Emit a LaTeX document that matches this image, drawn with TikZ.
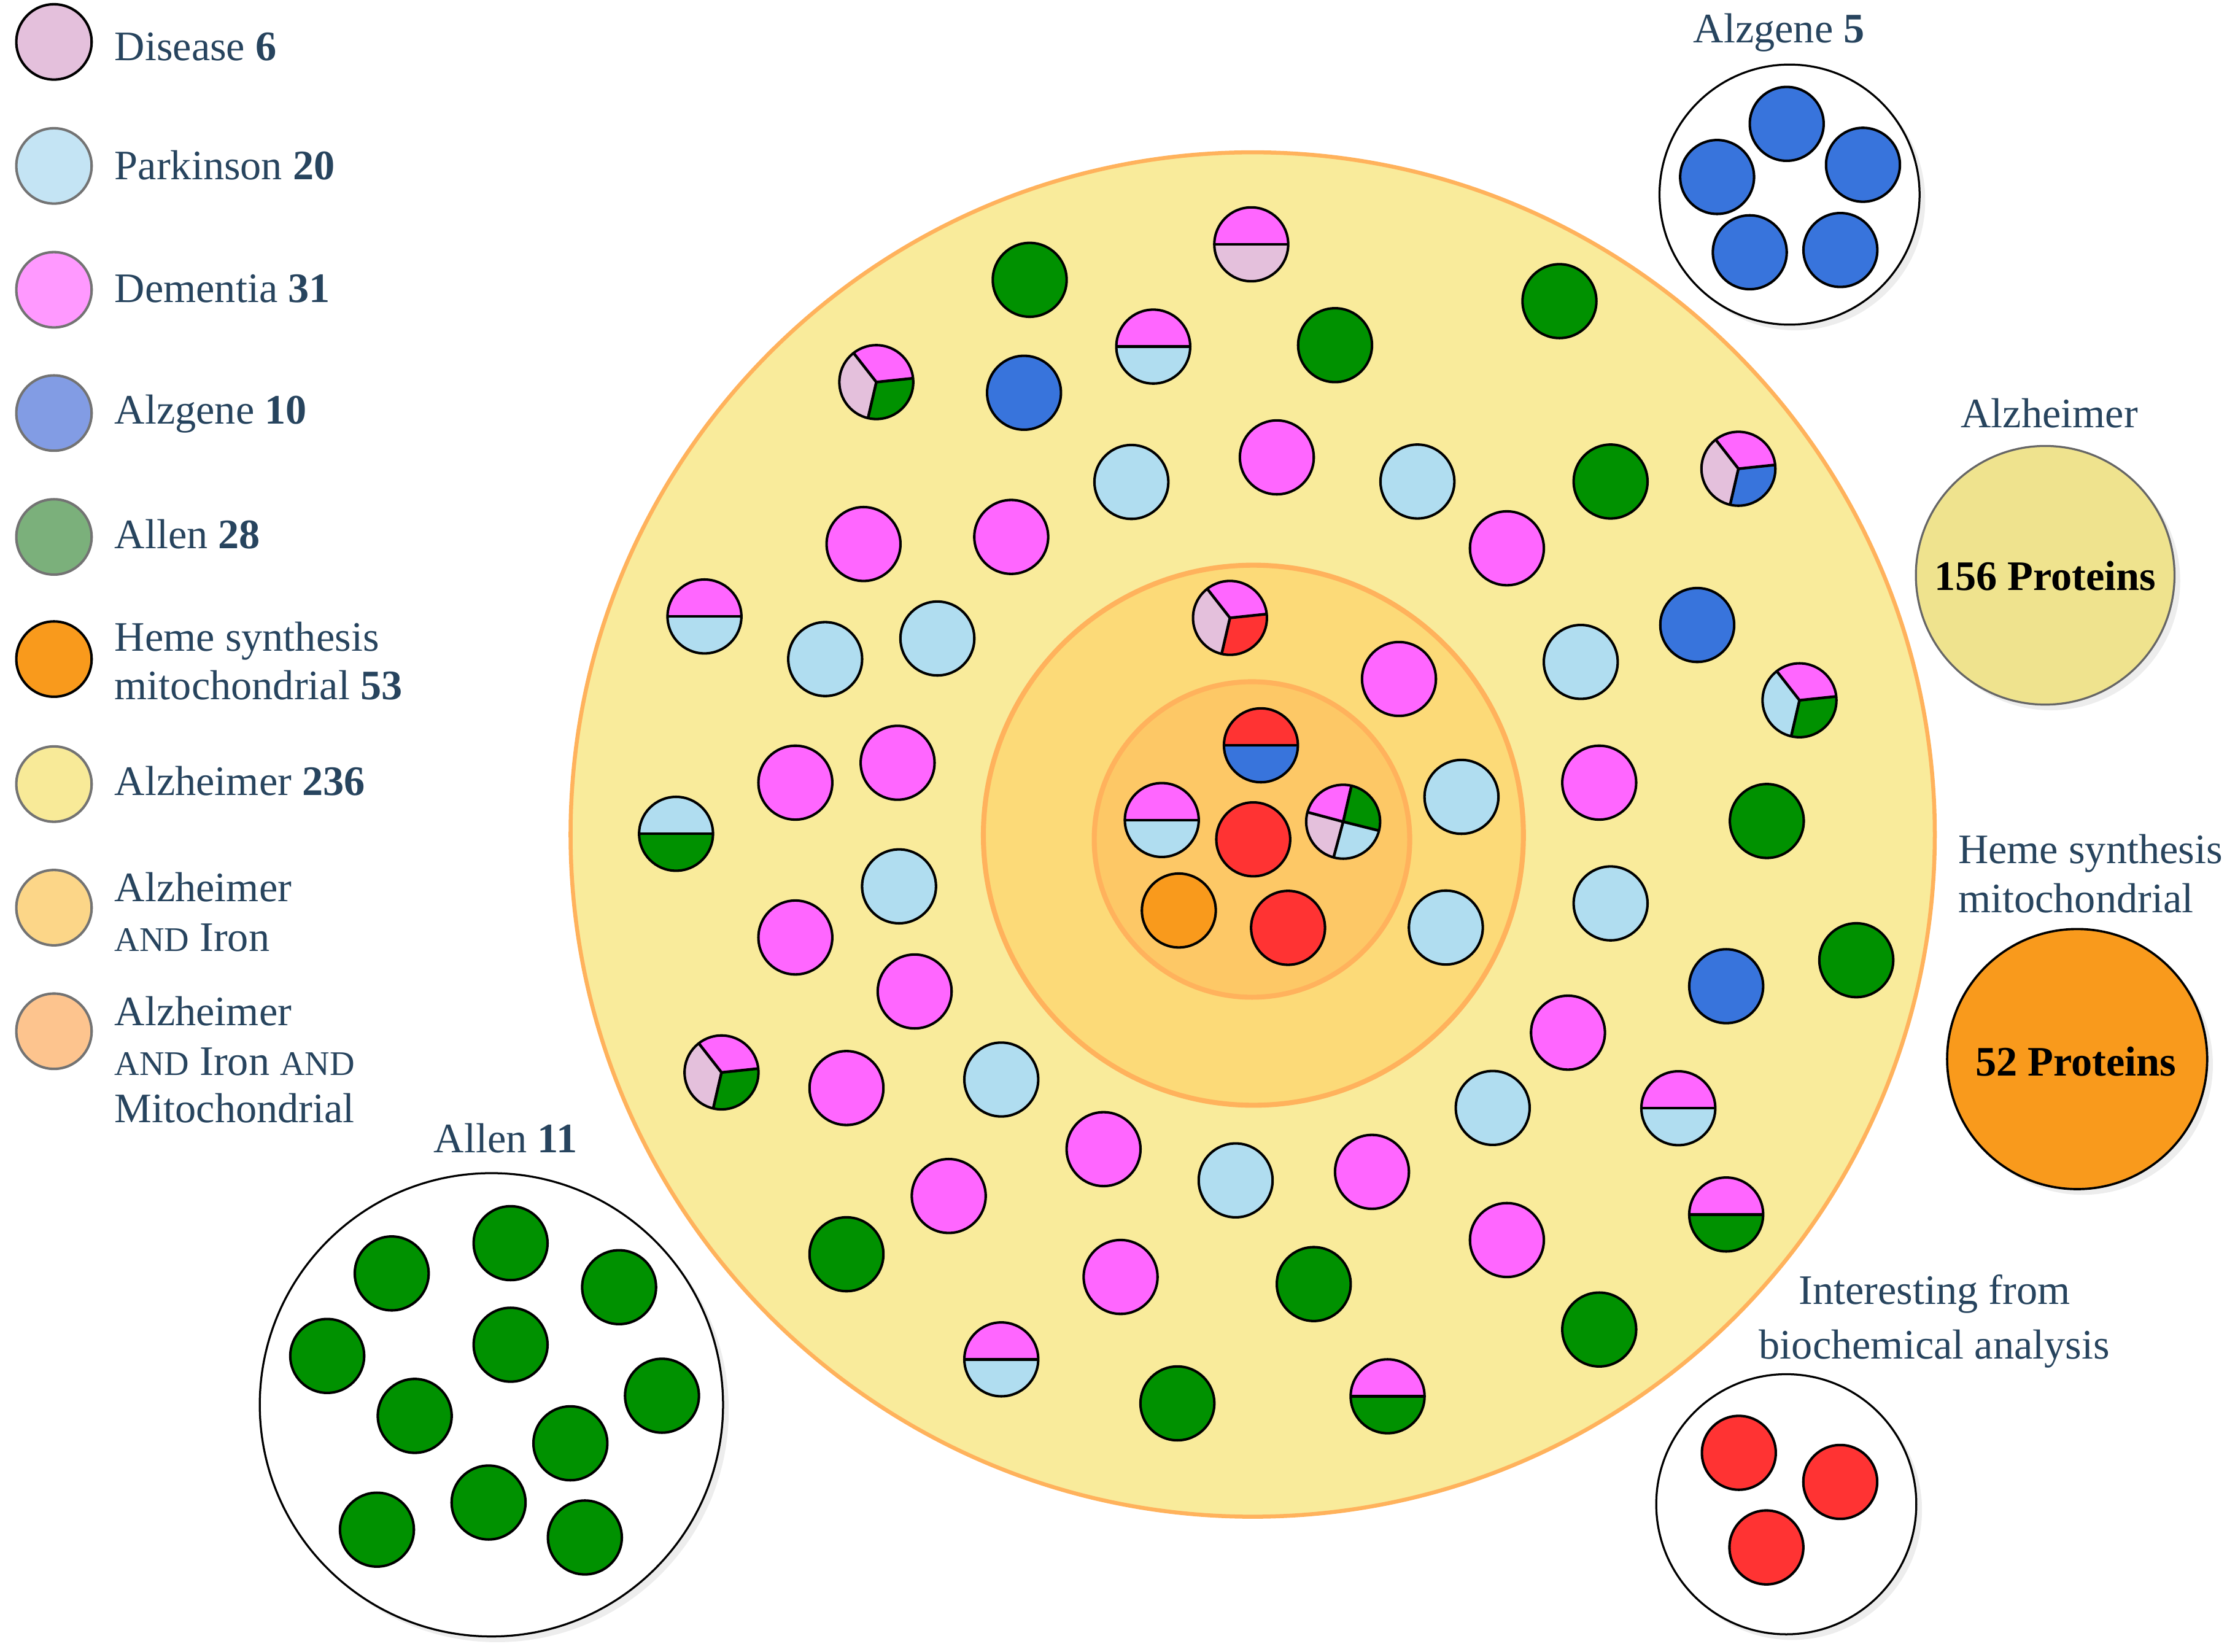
\documentclass[tikz,border=0pt]{standalone}
\usepackage{fontspec}
\setmainfont{Liberation Serif}
\usetikzlibrary{shadows}
\definecolor{txt}{RGB}{39,68,94}
\definecolor{mag}{RGB}{255,102,255}
\definecolor{lb}{RGB}{176,221,240}
\definecolor{grn}{RGB}{0,145,0}
\definecolor{blu}{RGB}{56,116,220}
\definecolor{dis}{RGB}{228,192,220}
\definecolor{rd}{RGB}{255,51,51}
\definecolor{org}{RGB}{249,154,28}
\definecolor{yelA}{RGB}{249,235,155}
\definecolor{yelB}{RGB}{252,218,120}
\definecolor{yelC}{RGB}{253,200,102}
\definecolor{edgeO}{RGB}{255,178,92}
\definecolor{khaki}{RGB}{239,227,142}
\definecolor{lgLb}{RGB}{196,228,244}
\definecolor{lgMag}{RGB}{255,153,255}
\definecolor{lgBlu}{RGB}{130,156,228}
\definecolor{lgGrn}{RGB}{123,176,123}
\definecolor{lgYelA}{RGB}{248,234,152}
\definecolor{lgYelB}{RGB}{252,214,136}
\definecolor{lgYelC}{RGB}{253,196,142}
\newcommand\smAND{{\fontsize{6.9}{8}\selectfont AND}}
\begin{document}
\begin{tikzpicture}[x=0.01cm,y=-0.01cm,
  dot/.style={circle,draw=black,line width=0.5pt,minimum size=5.2mm,inner sep=0pt},
  sMag/.style={dot,fill=mag}, sLb/.style={dot,fill=lb}, sGrn/.style={dot,fill=grn},
  sBlu/.style={dot,fill=blu}, sRed/.style={dot,fill=rd}, sOrg/.style={dot,fill=org},
  half/.style 2 args={dot,path picture={
    \fill[#1] ([xshift=-3mm]path picture bounding box.center) rectangle ([xshift=3mm,yshift=3mm]path picture bounding box.center);
    \fill[#2] ([xshift=-3mm]path picture bounding box.center) rectangle ([xshift=3mm,yshift=-3mm]path picture bounding box.center);
    \draw[line width=0.55pt] ([xshift=-3mm]path picture bounding box.center) -- ([xshift=3mm]path picture bounding box.center);}},
  pieC/.style n args={3}{dot,path picture={
    \coordinate (pc) at (path picture bounding box.center);
    \fill[#1] (pc) -- ++(6:4mm) arc[start angle=6,end angle=128,radius=4mm] -- cycle;
    \fill[#2] (pc) -- ++(128:4mm) arc[start angle=128,end angle=257,radius=4mm] -- cycle;
    \fill[#3] (pc) -- ++(257:4mm) arc[start angle=257,end angle=366,radius=4mm] -- cycle;
    \draw[line width=0.55pt] (pc) -- ++(6:4mm) (pc) -- ++(128:4mm) (pc) -- ++(257:4mm);}},
  pieD/.style n args={4}{dot,path picture={
    \coordinate (pc) at (path picture bounding box.center);
    \fill[#1] (pc) -- ++(77:4mm) arc[start angle=77,end angle=165,radius=4mm] -- cycle;
    \fill[#2] (pc) -- ++(165:4mm) arc[start angle=165,end angle=255,radius=4mm] -- cycle;
    \fill[#3] (pc) -- ++(255:4mm) arc[start angle=255,end angle=346,radius=4mm] -- cycle;
    \fill[#4] (pc) -- ++(346:4mm) arc[start angle=346,end angle=437,radius=4mm] -- cycle;
    \draw[line width=0.55pt] (pc) -- ++(77:4mm) (pc) -- ++(165:4mm) (pc) -- ++(255:4mm) (pc) -- ++(346:4mm);}},
  lbl/.style={text=txt,font=\fontsize{8.4}{10}\selectfont,inner sep=0pt},
  bigl/.style={text=black,font=\fontsize{8.4}{10}\selectfont\bfseries,inner sep=0pt},
  key/.style={circle,minimum size=5.3mm,inner sep=0pt,line width=0.5pt,draw=black!55},
  shad/.style={drop shadow={shadow xshift=0.4mm,shadow yshift=-0.4mm,opacity=0.07,fill=black}},
  grp/.style={circle,draw=black,line width=0.4pt,fill=white,inner sep=0pt,shad},
]
\useasboundingbox (0,0) rectangle (1568,1163);

% ---------- legend ----------
\node[key,fill=dis,draw=black] (k1) at (38,29.5) {};
\node[key,fill=lgLb] (k2) at (38,116.8) {};
\node[key,fill=lgMag] (k3) at (38,204) {};
\node[key,fill=lgBlu] (k4) at (38,290.8) {};
\node[key,fill=lgGrn] (k5) at (38,378) {};
\node[key,fill=org,draw=black] (k6) at (38,464) {};
\node[key,fill=lgYelA] (k7) at (38,552) {};
\node[key,fill=lgYelB] (k8) at (38,639) {};
\node[key,fill=lgYelC] (k9) at (38,726) {};
\node[lbl,anchor=base west] (t1) at (80,42.7) {Disease \textbf{6}};
\node[lbl,anchor=base west] (t2) at (80,126.3) {Parkinson \textbf{20}};
\node[lbl,anchor=base west] (t3) at (80,212.8) {Dementia \textbf{31}};
\node[lbl,anchor=base west] (t4) at (80,298.5) {Alzgene \textbf{10}};
\node[lbl,anchor=base west] (t5) at (80,386) {Allen \textbf{28}};
\node[lbl,anchor=base west] (t6a) at (80,458.5) {Heme synthesis};
\node[lbl,anchor=base west] (t6b) at (80,492.6) {mitochondrial \textbf{53}};
\node[lbl,anchor=base west] (t7) at (80,559.8) {Alzheimer \textbf{236}};
\node[lbl,anchor=base west] (t8a) at (80,634.5) {Alzheimer};
\node[lbl,anchor=base west] (t8b) at (80,669.8) {\smAND{} Iron};
\node[lbl,anchor=base west] (t9a) at (80,722) {Alzheimer};
\node[lbl,anchor=base west] (t9b) at (80,756.8) {\smAND{} Iron \smAND};
\node[lbl,anchor=base west] (t9c) at (80,790.3) {Mitochondrial};

% ---------- main concentric circles ----------
\node[circle,minimum size=9.6cm,inner sep=0pt,fill=yelA,draw=edgeO,line width=0.8pt] (outer) at (882,587.5) {};
\node[circle,minimum size=3.8cm,inner sep=0pt,fill=yelB,draw=edgeO,line width=1pt] (middle) at (882.5,588) {};
\node[circle,minimum size=2.22cm,inner sep=0pt,fill=yelC,draw=edgeO,line width=1pt] (inner) at (881.5,591) {};

% outer ring proteins
\node[sGrn] (a1) at (725,197) {};
\node[half={mag}{dis}] (a2) at (881,172) {};
\node[sGrn] (a3) at (1098,212) {};
\node[sGrn] (a4) at (940,243) {};
\node[half={mag}{lb}] (a5) at (812,244) {};
\node[pieC={mag}{dis}{grn}] (a6) at (617,269) {};
\node[sBlu] (a7) at (721,276.5) {};
\node[sMag] (a8) at (899,322) {};
\node[sLb] (a9) at (796.6,339.3) {};
\node[sLb] (a10) at (998,339) {};
\node[sGrn] (a11) at (1134,339) {};
\node[pieC={mag}{dis}{blu}] (a12) at (1224,330) {};
\node[sMag] (a13) at (608,383) {};
\node[sMag] (a14) at (712,378) {};
\node[sMag] (a15) at (1061,386) {};
\node[half={mag}{lb}] (a16) at (496,434) {};
\node[sLb] (a17) at (581,464) {};
\node[sLb] (a18) at (660,449.5) {};
\node[sBlu] (a19) at (1195,440) {};
\node[sLb] (a20) at (1113,466) {};
\node[pieC={mag}{lb}{grn}] (a21) at (1267,493) {};
\node[sMag] (a22) at (560,551) {};
\node[sMag] (a23) at (632,537) {};
\node[half={lb}{grn}] (a24) at (476,587) {};
\node[sMag] (a25) at (1126,551) {};
\node[sGrn] (a26) at (1244,578) {};
\node[sLb] (a27) at (633,624) {};
\node[sMag] (a28) at (560,660) {};
\node[sLb] (a29) at (1134,636) {};
\node[sGrn] (a30) at (1307,676) {};
\node[sBlu] (a31) at (1215.4,694.3) {};
\node[sMag] (a32) at (644,698) {};
\node[pieC={mag}{dis}{grn}] (a33) at (508,755) {};
\node[sMag] (a34) at (596,766) {};
\node[sLb] (a35) at (705,760) {};
\node[sMag] (a36) at (1104,727) {};
\node[sLb] (a37) at (1051,780) {};
\node[half={mag}{lb}] (a38) at (1181.7,780.2) {};
\node[sMag] (a39) at (777,809) {};
\node[sMag] (a40) at (668,842) {};
\node[sLb] (a41) at (870,831) {};
\node[sMag] (a42) at (966,825) {};
\node[half={mag}{grn}] (a43) at (1215.4,855) {};
\node[sGrn] (a44) at (596,883) {};
\node[sMag] (a45) at (789,899) {};
\node[sGrn] (a46) at (925,904) {};
\node[sMag] (a47) at (1061,873) {};
\node[sGrn] (a48) at (1126,936) {};
\node[half={mag}{lb}] (a49) at (705,957) {};
\node[sGrn] (a50) at (829,988) {};
\node[half={mag}{grn}] (a51) at (977,983) {};

% middle ring proteins
\node[pieC={mag}{dis}{rd}] (b1) at (866,435) {};
\node[sMag] (b2) at (985,478) {};
\node[sLb] (b3) at (1029,561) {};
\node[sLb] (b4) at (1018,653) {};

% inner proteins
\node[half={rd}{blu}] (c1) at (887.8,524.7) {};
\node[half={mag}{lb}] (c2) at (818,577.3) {};
\node[sRed] (c3) at (882.4,590.9) {};
\node[pieD={mag}{dis}{lb}{grn}] (c4) at (945.7,578.5) {};
\node[sOrg] (c5) at (830,641) {};
\node[sRed] (c6) at (906.9,653.2) {};

% ---------- Alzgene 5 ----------
\node[lbl,anchor=base] (lz) at (1252.6,30) {Alzgene \textbf{5}};
\node[grp,minimum size=1.83cm] (gz) at (1260,137) {};
\node[sBlu] (z1) at (1258,87.2) {};
\node[sBlu] (z2) at (1209,124.6) {};
\node[sBlu] (z3) at (1311.7,116) {};
\node[sBlu] (z4) at (1232,177.6) {};
\node[sBlu] (z5) at (1295.8,176) {};

% ---------- Alzheimer ----------
\node[lbl,anchor=base] (la) at (1443,301) {Alzheimer};
\node[circle,minimum size=1.82cm,inner sep=0pt,fill=khaki,draw=black!60,line width=0.4pt,shad] (ga) at (1440,405) {};
\node[bigl,anchor=base] (pa) at (1440,415.4) {156 Proteins};

% ---------- Heme ----------
\node[lbl,anchor=base west] (lh1) at (1378,607.8) {Heme synthesis};
\node[lbl,anchor=base west] (lh2) at (1378,642.4) {mitochondrial};
\node[circle,minimum size=1.83cm,inner sep=0pt,fill=org,draw=black,line width=0.45pt,shad] (gh) at (1462.5,745.6) {};
\node[bigl,anchor=base] (ph) at (1461.6,757.3) {52 Proteins};

% ---------- Interesting ----------
\node[lbl,anchor=base] (li1) at (1362,918) {Interesting from};
\node[lbl,anchor=base] (li2) at (1362,956.5) {biochemical analysis};
\node[grp,minimum size=1.83cm] (gi) at (1257.7,1059) {};
\node[sRed] (i1) at (1224.3,1022.8) {};
\node[sRed] (i2) at (1295.7,1043.3) {};
\node[sRed] (i3) at (1243.7,1089.4) {};

% ---------- Allen 11 ----------
\node[lbl,anchor=base] (ll) at (356,811.4) {Allen \textbf{11}};
\node[grp,minimum size=3.26cm] (gl) at (346,989) {};
\node[sGrn] (l1) at (275.8,896.5) {};
\node[sGrn] (l2) at (359.5,875.2) {};
\node[sGrn] (l3) at (435.9,906.2) {};
\node[sGrn] (l4) at (230.4,954.6) {};
\node[sGrn] (l5) at (359.5,946.7) {};
\node[sGrn] (l6) at (466.1,982.6) {};
\node[sGrn] (l7) at (292,996.8) {};
\node[sGrn] (l8) at (401.6,1016.1) {};
\node[sGrn] (l9) at (344,1057.8) {};
\node[sGrn] (l10) at (265.4,1076.9) {};
\node[sGrn] (l11) at (411.8,1082.4) {};
\end{tikzpicture}
\end{document}
